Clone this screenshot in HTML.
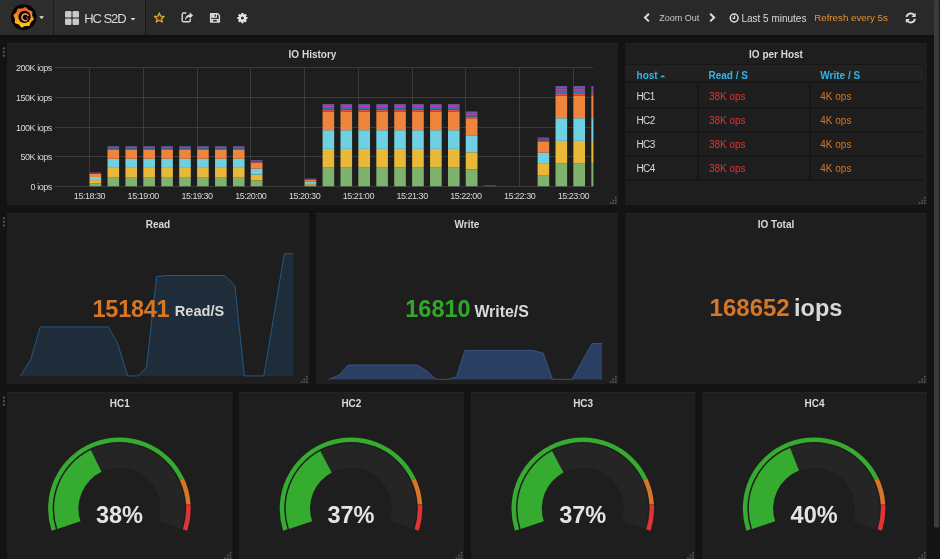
<!DOCTYPE html>
<html><head><meta charset="utf-8"><title>HC S2D - Grafana</title>
<style>
*{box-sizing:border-box;margin:0;padding:0}
html,body{width:940px;height:559px;overflow:hidden;background:#131313;font-family:"Liberation Sans", sans-serif}
svg{position:absolute;left:0;top:0;font-family:"Liberation Sans", sans-serif;will-change:transform}
</style></head><body>
<svg width="940" height="559" viewBox="0 0 940 559">
<defs>
<linearGradient id="lg" x1="0" y1="0" x2="0" y2="1"><stop offset="0" stop-color="#f05a28"/><stop offset="0.5" stop-color="#f7931e"/><stop offset="1" stop-color="#fcd00b"/></linearGradient>
<linearGradient id="navsh" x1="0" y1="0" x2="0" y2="1"><stop offset="0" stop-color="#0e0e0e"/><stop offset="1" stop-color="#131313"/></linearGradient>
<filter id="blur1" x="-50%" y="-50%" width="200%" height="200%"><feGaussianBlur stdDeviation="4"/></filter>
</defs>

<rect x="7" y="43" width="611" height="162" fill="#1f1e1e"/>
<rect x="7" y="43" width="611" height="1" fill="#242424"/>
<rect x="625" y="43" width="302" height="162" fill="#1f1e1e"/>
<rect x="625" y="43" width="302" height="1" fill="#242424"/>
<rect x="7" y="213" width="302" height="171" fill="#1f1e1e"/>
<rect x="7" y="213" width="302" height="1" fill="#242424"/>
<rect x="316" y="213" width="302" height="171" fill="#1f1e1e"/>
<rect x="316" y="213" width="302" height="1" fill="#242424"/>
<rect x="625" y="213" width="302" height="171" fill="#1f1e1e"/>
<rect x="625" y="213" width="302" height="1" fill="#242424"/>
<rect x="7" y="392" width="225.6" height="168" fill="#1f1e1e"/>
<rect x="7" y="392" width="225.6" height="1" fill="#242424"/>
<rect x="239" y="392" width="224.8" height="168" fill="#1f1e1e"/>
<rect x="239" y="392" width="224.8" height="1" fill="#242424"/>
<rect x="471" y="392" width="224.3" height="168" fill="#1f1e1e"/>
<rect x="471" y="392" width="224.3" height="1" fill="#242424"/>
<rect x="702" y="392" width="225" height="168" fill="#1f1e1e"/>
<rect x="702" y="392" width="225" height="1" fill="#242424"/>
<rect x="0" y="35" width="934" height="4" fill="url(#navsh)"/>
<rect x="0" y="0" width="934" height="35" fill="#292929"/>
<rect x="0" y="0" width="145" height="35" fill="#2d2d2d"/>
<rect x="53" y="0" width="1" height="35" fill="#1c1c1c"/><rect x="145" y="0" width="1" height="35" fill="#181818"/>
<circle cx="23.7" cy="17.1" r="12.8" fill="#050505"/>
<polygon points="25.55,7.60 28.12,10.48 31.77,11.79 31.55,15.65 33.20,19.15 30.32,21.72 29.01,25.37 25.15,25.15 21.65,26.80 19.08,23.92 15.43,22.61 15.65,18.75 14.00,15.25 16.88,12.68 18.19,9.03 22.05,9.25" fill="url(#lg)" stroke="url(#lg)" stroke-width="1.3" stroke-linejoin="round"/>
<circle cx="24.5" cy="16.9" r="6.1" fill="#080404"/>
<path d="M28.4,15.9 A3.4,3.4 0 1 0 26.9,20.3" fill="none" stroke="#f2a06c" stroke-width="1.5"/>
<path d="M26.9,20.3 A1.7,1.7 0 0 0 26.1,17.1" fill="none" stroke="#b84a34" stroke-width="1.1"/>
<path d="M39.3,16.3 L43.9,16.3 L41.6,19 Z" fill="#e8e8e8"/>
<g fill="#c8c8c8"><rect x="65" y="11" width="6.5" height="6.5" rx="1.2"/><rect x="72.5" y="11" width="6.5" height="6.5" rx="1.2"/><rect x="65" y="18.5" width="6.5" height="6.5" rx="1.2"/><rect x="72.5" y="18.5" width="6.5" height="6.5" rx="1.2"/></g>
<text x="84.20" y="22.80" font-size="13" fill="#d8d9da" letter-spacing="-1.05" text-anchor="start">HC S2D</text>
<path d="M130.6,17.9 L135.4,17.9 L133,20.6 Z" fill="#e0e0e0"/>
<polygon points="159.30,13.00 160.65,16.14 164.06,16.45 161.49,18.71 162.24,22.05 159.30,20.30 156.36,22.05 157.11,18.71 154.54,16.45 157.95,16.14" fill="#5c2410" stroke="#d2b03a" stroke-width="1.3" stroke-linejoin="round"/>
<path d="M190.3,18.7 V20.4 Q190.3,21.8 188.9,21.8 H183.6 Q182.2,21.8 182.2,20.4 V14.4 Q182.2,13 183.6,13 H186.4" fill="none" stroke="#d8d9da" stroke-width="1.4"/>
<path d="M185,20.6 C185,16.6 187.2,14.8 189.7,14.8 V12.2 L193.1,15.5 L189.7,18.8 V16.9 C187.8,16.9 186.2,17.9 185,20.6 Z" fill="#d8d9da"/>
<path d="M210.6,13.8 H217.7 L219.4,15.5 V22 H210.6 Z" fill="none" stroke="#d8d9da" stroke-width="1.4" stroke-linejoin="round"/>
<rect x="211.2" y="13.8" width="5.8" height="4" fill="#d8d9da"/><rect x="214.6" y="14.5" width="1.3" height="2.2" fill="#333"/>
<rect x="211.2" y="18.9" width="7.6" height="3" fill="#d8d9da"/><rect x="213.1" y="19.9" width="3.7" height="1.6" fill="#2a2a2a"/>
<g fill="#e8e8e8"><circle cx="242.4" cy="18.1" r="3.55"/><rect x="241.2" y="13.05" width="2.4" height="3" rx="0.45" transform="rotate(0 242.4 18.1)"/><rect x="241.2" y="13.05" width="2.4" height="3" rx="0.45" transform="rotate(45 242.4 18.1)"/><rect x="241.2" y="13.05" width="2.4" height="3" rx="0.45" transform="rotate(90 242.4 18.1)"/><rect x="241.2" y="13.05" width="2.4" height="3" rx="0.45" transform="rotate(135 242.4 18.1)"/><rect x="241.2" y="13.05" width="2.4" height="3" rx="0.45" transform="rotate(180 242.4 18.1)"/><rect x="241.2" y="13.05" width="2.4" height="3" rx="0.45" transform="rotate(225 242.4 18.1)"/><rect x="241.2" y="13.05" width="2.4" height="3" rx="0.45" transform="rotate(270 242.4 18.1)"/><rect x="241.2" y="13.05" width="2.4" height="3" rx="0.45" transform="rotate(315 242.4 18.1)"/></g><circle cx="242.4" cy="18.1" r="1.5" fill="#292929"/>
<path d="M648.9,13.8 L645,17.6 L648.9,21.4" fill="none" stroke="#e0e0e0" stroke-width="2"/>
<path d="M710.2,13.8 L714.1,17.6 L710.2,21.4" fill="none" stroke="#e0e0e0" stroke-width="2"/>
<circle cx="734.2" cy="18" r="3.9" fill="none" stroke="#e0e0e0" stroke-width="1.5"/>
<path d="M734.5,15.6 V18.3 H732.4" fill="none" stroke="#e0e0e0" stroke-width="1.2"/>
<text x="659.30" y="21.00" font-size="9" fill="#c8c8c8" text-anchor="start">Zoom Out</text>
<text x="741.40" y="21.60" font-size="10" fill="#d8d9da" text-anchor="start">Last 5 minutes</text>
<text x="814.20" y="20.90" font-size="9.75" fill="#e0923a" text-anchor="start">Refresh every 5s</text>
<path d="M906.4,17 A4.3,4.3 0 0 1 914.2,15.3" fill="none" stroke="#e0e0e0" stroke-width="1.8"/>
<path d="M915.6,12.8 L915.6,16.9 L911.5,16.9 Z" fill="#e0e0e0"/>
<path d="M915,18.9 A4.3,4.3 0 0 1 907.2,20.6" fill="none" stroke="#e0e0e0" stroke-width="1.8"/>
<path d="M905.8,23 L905.8,18.9 L909.9,18.9 Z" fill="#e0e0e0"/>
<rect x="934" y="0" width="6" height="559" fill="#141414"/>
<rect x="934" y="0" width="5.2" height="527.5" rx="1.5" fill="#3b3b3b"/>
<g fill="#4a4a4a"><circle cx="3.9" cy="48.4" r="1.25"/><circle cx="3.9" cy="52.0" r="1.25"/><circle cx="3.9" cy="55.699999999999996" r="1.25"/></g>
<g fill="#4a4a4a"><circle cx="3.9" cy="218.1" r="1.25"/><circle cx="3.9" cy="221.7" r="1.25"/><circle cx="3.9" cy="225.4" r="1.25"/></g>
<g fill="#4a4a4a"><circle cx="3.9" cy="397.4" r="1.25"/><circle cx="3.9" cy="401.0" r="1.25"/><circle cx="3.9" cy="404.7" r="1.25"/></g>
<g fill="#555"><circle cx="615.8" cy="197.8" r="0.95"/><circle cx="615.8" cy="200.4" r="0.95"/><circle cx="613.2" cy="200.4" r="0.95"/><circle cx="615.8" cy="203.0" r="0.95"/><circle cx="613.2" cy="203.0" r="0.95"/><circle cx="610.6" cy="203.0" r="0.95"/></g>
<g fill="#555"><circle cx="924.8" cy="197.8" r="0.95"/><circle cx="924.8" cy="200.4" r="0.95"/><circle cx="922.2" cy="200.4" r="0.95"/><circle cx="924.8" cy="203.0" r="0.95"/><circle cx="922.2" cy="203.0" r="0.95"/><circle cx="919.6" cy="203.0" r="0.95"/></g>
<g fill="#555"><circle cx="306.8" cy="376.8" r="0.95"/><circle cx="306.8" cy="379.4" r="0.95"/><circle cx="304.2" cy="379.4" r="0.95"/><circle cx="306.8" cy="382.0" r="0.95"/><circle cx="304.2" cy="382.0" r="0.95"/><circle cx="301.6" cy="382.0" r="0.95"/></g>
<g fill="#555"><circle cx="615.8" cy="376.8" r="0.95"/><circle cx="615.8" cy="379.4" r="0.95"/><circle cx="613.2" cy="379.4" r="0.95"/><circle cx="615.8" cy="382.0" r="0.95"/><circle cx="613.2" cy="382.0" r="0.95"/><circle cx="610.6" cy="382.0" r="0.95"/></g>
<g fill="#555"><circle cx="924.8" cy="376.8" r="0.95"/><circle cx="924.8" cy="379.4" r="0.95"/><circle cx="922.2" cy="379.4" r="0.95"/><circle cx="924.8" cy="382.0" r="0.95"/><circle cx="922.2" cy="382.0" r="0.95"/><circle cx="919.6" cy="382.0" r="0.95"/></g>
<g fill="#555"><circle cx="230.4" cy="552.8" r="0.95"/><circle cx="230.4" cy="555.4" r="0.95"/><circle cx="227.8" cy="555.4" r="0.95"/><circle cx="230.4" cy="558.0" r="0.95"/><circle cx="227.8" cy="558.0" r="0.95"/><circle cx="225.2" cy="558.0" r="0.95"/></g>
<g fill="#555"><circle cx="461.6" cy="552.8" r="0.95"/><circle cx="461.6" cy="555.4" r="0.95"/><circle cx="459.0" cy="555.4" r="0.95"/><circle cx="461.6" cy="558.0" r="0.95"/><circle cx="459.0" cy="558.0" r="0.95"/><circle cx="456.4" cy="558.0" r="0.95"/></g>
<g fill="#555"><circle cx="693.1" cy="552.8" r="0.95"/><circle cx="693.1" cy="555.4" r="0.95"/><circle cx="690.5" cy="555.4" r="0.95"/><circle cx="693.1" cy="558.0" r="0.95"/><circle cx="690.5" cy="558.0" r="0.95"/><circle cx="687.9" cy="558.0" r="0.95"/></g>
<g fill="#555"><circle cx="924.8" cy="552.8" r="0.95"/><circle cx="924.8" cy="555.4" r="0.95"/><circle cx="922.2" cy="555.4" r="0.95"/><circle cx="924.8" cy="558.0" r="0.95"/><circle cx="922.2" cy="558.0" r="0.95"/><circle cx="919.6" cy="558.0" r="0.95"/></g>
<text x="312.50" y="57.60" font-size="10" fill="#d8d9da" font-weight="bold" text-anchor="middle">IO History</text>
<g stroke="rgba(255,255,255,0.12)" stroke-width="1" shape-rendering="crispEdges">
<line x1="54.8" y1="186.3" x2="593.4" y2="186.3"/>
<line x1="54.8" y1="156.7" x2="593.4" y2="156.7"/>
<line x1="54.8" y1="127.0" x2="593.4" y2="127.0"/>
<line x1="54.8" y1="97.4" x2="593.4" y2="97.4"/>
<line x1="54.8" y1="67.7" x2="593.4" y2="67.7"/>
<line x1="89.5" y1="67.7" x2="89.5" y2="186.3"/>
<line x1="143.3" y1="67.7" x2="143.3" y2="186.3"/>
<line x1="197.0" y1="67.7" x2="197.0" y2="186.3"/>
<line x1="250.8" y1="67.7" x2="250.8" y2="186.3"/>
<line x1="304.5" y1="67.7" x2="304.5" y2="186.3"/>
<line x1="358.3" y1="67.7" x2="358.3" y2="186.3"/>
<line x1="412.1" y1="67.7" x2="412.1" y2="186.3"/>
<line x1="465.8" y1="67.7" x2="465.8" y2="186.3"/>
<line x1="519.6" y1="67.7" x2="519.6" y2="186.3"/>
<line x1="573.3" y1="67.7" x2="573.3" y2="186.3"/>
</g>
<rect x="89.60" y="183.20" width="11.60" height="3.10" fill="#7EB26D"/>
<rect x="89.60" y="180.10" width="11.60" height="3.10" fill="#EAB839"/>
<rect x="89.60" y="177.00" width="11.60" height="3.10" fill="#6ED0E0"/>
<rect x="89.60" y="173.90" width="11.60" height="3.10" fill="#EF843C"/>
<rect x="89.60" y="173.55" width="11.60" height="0.35" fill="#E24D42"/>
<rect x="89.60" y="173.20" width="11.60" height="0.35" fill="#1F78C1"/>
<rect x="89.60" y="172.85" width="11.60" height="0.35" fill="#BA43A9"/>
<rect x="89.60" y="172.50" width="11.60" height="0.35" fill="#705DA0"/>
<rect x="107.52" y="177.10" width="11.60" height="9.20" fill="#7EB26D"/>
<rect x="107.52" y="167.90" width="11.60" height="9.20" fill="#EAB839"/>
<rect x="107.52" y="158.70" width="11.60" height="9.20" fill="#6ED0E0"/>
<rect x="107.52" y="149.50" width="11.60" height="9.20" fill="#EF843C"/>
<rect x="107.52" y="148.68" width="11.60" height="0.82" fill="#E24D42"/>
<rect x="107.52" y="147.86" width="11.60" height="0.82" fill="#1F78C1"/>
<rect x="107.52" y="147.04" width="11.60" height="0.82" fill="#BA43A9"/>
<rect x="107.52" y="146.22" width="11.60" height="0.82" fill="#705DA0"/>
<rect x="125.44" y="177.10" width="11.60" height="9.20" fill="#7EB26D"/>
<rect x="125.44" y="167.90" width="11.60" height="9.20" fill="#EAB839"/>
<rect x="125.44" y="158.70" width="11.60" height="9.20" fill="#6ED0E0"/>
<rect x="125.44" y="149.50" width="11.60" height="9.20" fill="#EF843C"/>
<rect x="125.44" y="148.68" width="11.60" height="0.82" fill="#E24D42"/>
<rect x="125.44" y="147.86" width="11.60" height="0.82" fill="#1F78C1"/>
<rect x="125.44" y="147.04" width="11.60" height="0.82" fill="#BA43A9"/>
<rect x="125.44" y="146.22" width="11.60" height="0.82" fill="#705DA0"/>
<rect x="143.36" y="177.10" width="11.60" height="9.20" fill="#7EB26D"/>
<rect x="143.36" y="167.90" width="11.60" height="9.20" fill="#EAB839"/>
<rect x="143.36" y="158.70" width="11.60" height="9.20" fill="#6ED0E0"/>
<rect x="143.36" y="149.50" width="11.60" height="9.20" fill="#EF843C"/>
<rect x="143.36" y="148.68" width="11.60" height="0.82" fill="#E24D42"/>
<rect x="143.36" y="147.86" width="11.60" height="0.82" fill="#1F78C1"/>
<rect x="143.36" y="147.04" width="11.60" height="0.82" fill="#BA43A9"/>
<rect x="143.36" y="146.22" width="11.60" height="0.82" fill="#705DA0"/>
<rect x="161.28" y="177.10" width="11.60" height="9.20" fill="#7EB26D"/>
<rect x="161.28" y="167.90" width="11.60" height="9.20" fill="#EAB839"/>
<rect x="161.28" y="158.70" width="11.60" height="9.20" fill="#6ED0E0"/>
<rect x="161.28" y="149.50" width="11.60" height="9.20" fill="#EF843C"/>
<rect x="161.28" y="148.68" width="11.60" height="0.82" fill="#E24D42"/>
<rect x="161.28" y="147.86" width="11.60" height="0.82" fill="#1F78C1"/>
<rect x="161.28" y="147.04" width="11.60" height="0.82" fill="#BA43A9"/>
<rect x="161.28" y="146.22" width="11.60" height="0.82" fill="#705DA0"/>
<rect x="179.20" y="177.10" width="11.60" height="9.20" fill="#7EB26D"/>
<rect x="179.20" y="167.90" width="11.60" height="9.20" fill="#EAB839"/>
<rect x="179.20" y="158.70" width="11.60" height="9.20" fill="#6ED0E0"/>
<rect x="179.20" y="149.50" width="11.60" height="9.20" fill="#EF843C"/>
<rect x="179.20" y="148.68" width="11.60" height="0.82" fill="#E24D42"/>
<rect x="179.20" y="147.86" width="11.60" height="0.82" fill="#1F78C1"/>
<rect x="179.20" y="147.04" width="11.60" height="0.82" fill="#BA43A9"/>
<rect x="179.20" y="146.22" width="11.60" height="0.82" fill="#705DA0"/>
<rect x="197.12" y="177.10" width="11.60" height="9.20" fill="#7EB26D"/>
<rect x="197.12" y="167.90" width="11.60" height="9.20" fill="#EAB839"/>
<rect x="197.12" y="158.70" width="11.60" height="9.20" fill="#6ED0E0"/>
<rect x="197.12" y="149.50" width="11.60" height="9.20" fill="#EF843C"/>
<rect x="197.12" y="148.68" width="11.60" height="0.82" fill="#E24D42"/>
<rect x="197.12" y="147.86" width="11.60" height="0.82" fill="#1F78C1"/>
<rect x="197.12" y="147.04" width="11.60" height="0.82" fill="#BA43A9"/>
<rect x="197.12" y="146.22" width="11.60" height="0.82" fill="#705DA0"/>
<rect x="215.04" y="177.10" width="11.60" height="9.20" fill="#7EB26D"/>
<rect x="215.04" y="167.90" width="11.60" height="9.20" fill="#EAB839"/>
<rect x="215.04" y="158.70" width="11.60" height="9.20" fill="#6ED0E0"/>
<rect x="215.04" y="149.50" width="11.60" height="9.20" fill="#EF843C"/>
<rect x="215.04" y="148.68" width="11.60" height="0.82" fill="#E24D42"/>
<rect x="215.04" y="147.86" width="11.60" height="0.82" fill="#1F78C1"/>
<rect x="215.04" y="147.04" width="11.60" height="0.82" fill="#BA43A9"/>
<rect x="215.04" y="146.22" width="11.60" height="0.82" fill="#705DA0"/>
<rect x="232.96" y="177.10" width="11.60" height="9.20" fill="#7EB26D"/>
<rect x="232.96" y="167.90" width="11.60" height="9.20" fill="#EAB839"/>
<rect x="232.96" y="158.70" width="11.60" height="9.20" fill="#6ED0E0"/>
<rect x="232.96" y="149.50" width="11.60" height="9.20" fill="#EF843C"/>
<rect x="232.96" y="148.68" width="11.60" height="0.82" fill="#E24D42"/>
<rect x="232.96" y="147.86" width="11.60" height="0.82" fill="#1F78C1"/>
<rect x="232.96" y="147.04" width="11.60" height="0.82" fill="#BA43A9"/>
<rect x="232.96" y="146.22" width="11.60" height="0.82" fill="#705DA0"/>
<rect x="250.88" y="180.45" width="11.60" height="5.85" fill="#7EB26D"/>
<rect x="250.88" y="174.60" width="11.60" height="5.85" fill="#EAB839"/>
<rect x="250.88" y="168.75" width="11.60" height="5.85" fill="#6ED0E0"/>
<rect x="250.88" y="162.90" width="11.60" height="5.85" fill="#EF843C"/>
<rect x="250.88" y="162.18" width="11.60" height="0.72" fill="#E24D42"/>
<rect x="250.88" y="161.46" width="11.60" height="0.72" fill="#1F78C1"/>
<rect x="250.88" y="160.74" width="11.60" height="0.72" fill="#BA43A9"/>
<rect x="250.88" y="160.02" width="11.60" height="0.72" fill="#705DA0"/>
<rect x="304.64" y="184.70" width="11.60" height="1.60" fill="#7EB26D"/>
<rect x="304.64" y="183.10" width="11.60" height="1.60" fill="#EAB839"/>
<rect x="304.64" y="181.50" width="11.60" height="1.60" fill="#6ED0E0"/>
<rect x="304.64" y="179.90" width="11.60" height="1.60" fill="#EF843C"/>
<rect x="304.64" y="179.57" width="11.60" height="0.33" fill="#E24D42"/>
<rect x="304.64" y="179.24" width="11.60" height="0.33" fill="#1F78C1"/>
<rect x="304.64" y="178.91" width="11.60" height="0.33" fill="#BA43A9"/>
<rect x="304.64" y="178.58" width="11.60" height="0.33" fill="#705DA0"/>
<rect x="322.56" y="167.60" width="11.60" height="18.70" fill="#7EB26D"/>
<rect x="322.56" y="148.90" width="11.60" height="18.70" fill="#EAB839"/>
<rect x="322.56" y="130.20" width="11.60" height="18.70" fill="#6ED0E0"/>
<rect x="322.56" y="111.50" width="11.60" height="18.70" fill="#EF843C"/>
<rect x="322.56" y="109.65" width="11.60" height="1.85" fill="#E24D42"/>
<rect x="322.56" y="107.80" width="11.60" height="1.85" fill="#1F78C1"/>
<rect x="322.56" y="105.95" width="11.60" height="1.85" fill="#BA43A9"/>
<rect x="322.56" y="104.10" width="11.60" height="1.85" fill="#705DA0"/>
<rect x="340.48" y="167.60" width="11.60" height="18.70" fill="#7EB26D"/>
<rect x="340.48" y="148.90" width="11.60" height="18.70" fill="#EAB839"/>
<rect x="340.48" y="130.20" width="11.60" height="18.70" fill="#6ED0E0"/>
<rect x="340.48" y="111.50" width="11.60" height="18.70" fill="#EF843C"/>
<rect x="340.48" y="109.65" width="11.60" height="1.85" fill="#E24D42"/>
<rect x="340.48" y="107.80" width="11.60" height="1.85" fill="#1F78C1"/>
<rect x="340.48" y="105.95" width="11.60" height="1.85" fill="#BA43A9"/>
<rect x="340.48" y="104.10" width="11.60" height="1.85" fill="#705DA0"/>
<rect x="358.40" y="167.60" width="11.60" height="18.70" fill="#7EB26D"/>
<rect x="358.40" y="148.90" width="11.60" height="18.70" fill="#EAB839"/>
<rect x="358.40" y="130.20" width="11.60" height="18.70" fill="#6ED0E0"/>
<rect x="358.40" y="111.50" width="11.60" height="18.70" fill="#EF843C"/>
<rect x="358.40" y="109.65" width="11.60" height="1.85" fill="#E24D42"/>
<rect x="358.40" y="107.80" width="11.60" height="1.85" fill="#1F78C1"/>
<rect x="358.40" y="105.95" width="11.60" height="1.85" fill="#BA43A9"/>
<rect x="358.40" y="104.10" width="11.60" height="1.85" fill="#705DA0"/>
<rect x="376.32" y="167.60" width="11.60" height="18.70" fill="#7EB26D"/>
<rect x="376.32" y="148.90" width="11.60" height="18.70" fill="#EAB839"/>
<rect x="376.32" y="130.20" width="11.60" height="18.70" fill="#6ED0E0"/>
<rect x="376.32" y="111.50" width="11.60" height="18.70" fill="#EF843C"/>
<rect x="376.32" y="109.65" width="11.60" height="1.85" fill="#E24D42"/>
<rect x="376.32" y="107.80" width="11.60" height="1.85" fill="#1F78C1"/>
<rect x="376.32" y="105.95" width="11.60" height="1.85" fill="#BA43A9"/>
<rect x="376.32" y="104.10" width="11.60" height="1.85" fill="#705DA0"/>
<rect x="394.24" y="167.60" width="11.60" height="18.70" fill="#7EB26D"/>
<rect x="394.24" y="148.90" width="11.60" height="18.70" fill="#EAB839"/>
<rect x="394.24" y="130.20" width="11.60" height="18.70" fill="#6ED0E0"/>
<rect x="394.24" y="111.50" width="11.60" height="18.70" fill="#EF843C"/>
<rect x="394.24" y="109.65" width="11.60" height="1.85" fill="#E24D42"/>
<rect x="394.24" y="107.80" width="11.60" height="1.85" fill="#1F78C1"/>
<rect x="394.24" y="105.95" width="11.60" height="1.85" fill="#BA43A9"/>
<rect x="394.24" y="104.10" width="11.60" height="1.85" fill="#705DA0"/>
<rect x="412.16" y="167.60" width="11.60" height="18.70" fill="#7EB26D"/>
<rect x="412.16" y="148.90" width="11.60" height="18.70" fill="#EAB839"/>
<rect x="412.16" y="130.20" width="11.60" height="18.70" fill="#6ED0E0"/>
<rect x="412.16" y="111.50" width="11.60" height="18.70" fill="#EF843C"/>
<rect x="412.16" y="109.65" width="11.60" height="1.85" fill="#E24D42"/>
<rect x="412.16" y="107.80" width="11.60" height="1.85" fill="#1F78C1"/>
<rect x="412.16" y="105.95" width="11.60" height="1.85" fill="#BA43A9"/>
<rect x="412.16" y="104.10" width="11.60" height="1.85" fill="#705DA0"/>
<rect x="430.08" y="167.60" width="11.60" height="18.70" fill="#7EB26D"/>
<rect x="430.08" y="148.90" width="11.60" height="18.70" fill="#EAB839"/>
<rect x="430.08" y="130.20" width="11.60" height="18.70" fill="#6ED0E0"/>
<rect x="430.08" y="111.50" width="11.60" height="18.70" fill="#EF843C"/>
<rect x="430.08" y="109.65" width="11.60" height="1.85" fill="#E24D42"/>
<rect x="430.08" y="107.80" width="11.60" height="1.85" fill="#1F78C1"/>
<rect x="430.08" y="105.95" width="11.60" height="1.85" fill="#BA43A9"/>
<rect x="430.08" y="104.10" width="11.60" height="1.85" fill="#705DA0"/>
<rect x="448.00" y="167.60" width="11.60" height="18.70" fill="#7EB26D"/>
<rect x="448.00" y="148.90" width="11.60" height="18.70" fill="#EAB839"/>
<rect x="448.00" y="130.20" width="11.60" height="18.70" fill="#6ED0E0"/>
<rect x="448.00" y="111.50" width="11.60" height="18.70" fill="#EF843C"/>
<rect x="448.00" y="109.65" width="11.60" height="1.85" fill="#E24D42"/>
<rect x="448.00" y="107.80" width="11.60" height="1.85" fill="#1F78C1"/>
<rect x="448.00" y="105.95" width="11.60" height="1.85" fill="#BA43A9"/>
<rect x="448.00" y="104.10" width="11.60" height="1.85" fill="#705DA0"/>
<rect x="465.92" y="169.30" width="11.60" height="17.00" fill="#7EB26D"/>
<rect x="465.92" y="152.30" width="11.60" height="17.00" fill="#EAB839"/>
<rect x="465.92" y="135.30" width="11.60" height="17.00" fill="#6ED0E0"/>
<rect x="465.92" y="118.30" width="11.60" height="17.00" fill="#EF843C"/>
<rect x="465.92" y="116.60" width="11.60" height="1.70" fill="#E24D42"/>
<rect x="465.92" y="114.90" width="11.60" height="1.70" fill="#1F78C1"/>
<rect x="465.92" y="113.20" width="11.60" height="1.70" fill="#BA43A9"/>
<rect x="465.92" y="111.50" width="11.60" height="1.70" fill="#705DA0"/>
<rect x="537.60" y="175.10" width="11.60" height="11.20" fill="#7EB26D"/>
<rect x="537.60" y="163.90" width="11.60" height="11.20" fill="#EAB839"/>
<rect x="537.60" y="152.70" width="11.60" height="11.20" fill="#6ED0E0"/>
<rect x="537.60" y="141.50" width="11.60" height="11.20" fill="#EF843C"/>
<rect x="537.60" y="140.50" width="11.60" height="1.00" fill="#E24D42"/>
<rect x="537.60" y="139.50" width="11.60" height="1.00" fill="#1F78C1"/>
<rect x="537.60" y="138.50" width="11.60" height="1.00" fill="#BA43A9"/>
<rect x="537.60" y="137.50" width="11.60" height="1.00" fill="#705DA0"/>
<rect x="555.52" y="163.60" width="11.60" height="22.70" fill="#7EB26D"/>
<rect x="555.52" y="140.90" width="11.60" height="22.70" fill="#EAB839"/>
<rect x="555.52" y="118.20" width="11.60" height="22.70" fill="#6ED0E0"/>
<rect x="555.52" y="95.50" width="11.60" height="22.70" fill="#EF843C"/>
<rect x="555.52" y="93.15" width="11.60" height="2.35" fill="#E24D42"/>
<rect x="555.52" y="90.80" width="11.60" height="2.35" fill="#1F78C1"/>
<rect x="555.52" y="88.45" width="11.60" height="2.35" fill="#BA43A9"/>
<rect x="555.52" y="86.10" width="11.60" height="2.35" fill="#705DA0"/>
<rect x="573.44" y="163.60" width="11.60" height="22.70" fill="#7EB26D"/>
<rect x="573.44" y="140.90" width="11.60" height="22.70" fill="#EAB839"/>
<rect x="573.44" y="118.20" width="11.60" height="22.70" fill="#6ED0E0"/>
<rect x="573.44" y="95.50" width="11.60" height="22.70" fill="#EF843C"/>
<rect x="573.44" y="93.15" width="11.60" height="2.35" fill="#E24D42"/>
<rect x="573.44" y="90.80" width="11.60" height="2.35" fill="#1F78C1"/>
<rect x="573.44" y="88.45" width="11.60" height="2.35" fill="#BA43A9"/>
<rect x="573.44" y="86.10" width="11.60" height="2.35" fill="#705DA0"/>
<rect x="591.36" y="163.60" width="2.04" height="22.70" fill="#7EB26D"/>
<rect x="591.36" y="140.90" width="2.04" height="22.70" fill="#EAB839"/>
<rect x="591.36" y="118.20" width="2.04" height="22.70" fill="#6ED0E0"/>
<rect x="591.36" y="95.50" width="2.04" height="22.70" fill="#EF843C"/>
<rect x="591.36" y="93.15" width="2.04" height="2.35" fill="#E24D42"/>
<rect x="591.36" y="90.80" width="2.04" height="2.35" fill="#1F78C1"/>
<rect x="591.36" y="88.45" width="2.04" height="2.35" fill="#BA43A9"/>
<rect x="591.36" y="86.10" width="2.04" height="2.35" fill="#705DA0"/>
<rect x="483.74" y="185.30" width="12.1" height="1" fill="#5a5a5a"/>
<text x="51.90" y="189.80" font-size="9" fill="#d8d9da" letter-spacing="-0.45" text-anchor="end">0 iops</text>
<text x="51.90" y="160.15" font-size="9" fill="#d8d9da" letter-spacing="-0.45" text-anchor="end">50K iops</text>
<text x="51.90" y="130.50" font-size="9" fill="#d8d9da" letter-spacing="-0.45" text-anchor="end">100K iops</text>
<text x="51.90" y="100.85" font-size="9" fill="#d8d9da" letter-spacing="-0.45" text-anchor="end">150K iops</text>
<text x="51.90" y="71.20" font-size="9" fill="#d8d9da" letter-spacing="-0.45" text-anchor="end">200K iops</text>
<text x="89.50" y="199.00" font-size="9" fill="#d8d9da" letter-spacing="-0.47" text-anchor="middle">15:18:30</text>
<text x="143.26" y="199.00" font-size="9" fill="#d8d9da" letter-spacing="-0.47" text-anchor="middle">15:19:00</text>
<text x="197.02" y="199.00" font-size="9" fill="#d8d9da" letter-spacing="-0.47" text-anchor="middle">15:19:30</text>
<text x="250.78" y="199.00" font-size="9" fill="#d8d9da" letter-spacing="-0.47" text-anchor="middle">15:20:00</text>
<text x="304.54" y="199.00" font-size="9" fill="#d8d9da" letter-spacing="-0.47" text-anchor="middle">15:20:30</text>
<text x="358.30" y="199.00" font-size="9" fill="#d8d9da" letter-spacing="-0.47" text-anchor="middle">15:21:00</text>
<text x="412.06" y="199.00" font-size="9" fill="#d8d9da" letter-spacing="-0.47" text-anchor="middle">15:21:30</text>
<text x="465.82" y="199.00" font-size="9" fill="#d8d9da" letter-spacing="-0.47" text-anchor="middle">15:22:00</text>
<text x="519.58" y="199.00" font-size="9" fill="#d8d9da" letter-spacing="-0.47" text-anchor="middle">15:22:30</text>
<text x="573.34" y="199.00" font-size="9" fill="#d8d9da" letter-spacing="-0.47" text-anchor="middle">15:23:00</text>
<text x="776.00" y="57.60" font-size="10" fill="#d8d9da" font-weight="bold" text-anchor="middle">IO per Host</text>
<rect x="626" y="64" width="297" height="1" fill="#171717"/>
<rect x="626" y="65" width="297" height="16" fill="#222121"/>
<rect x="626" y="81" width="297" height="2" fill="#171717"/>
<text x="636.60" y="78.90" font-size="10" fill="#33b5e5" font-weight="bold" text-anchor="start">host</text>
<path d="M660,77.3 L662.7,74.9 L665.4,77.3 Z" fill="#33b5e5"/>
<text x="708.50" y="78.90" font-size="10" fill="#33b5e5" font-weight="bold" text-anchor="start">Read / S</text>
<text x="820.30" y="78.90" font-size="10" fill="#33b5e5" font-weight="bold" text-anchor="start">Write / S</text>
<rect x="626" y="107" width="297" height="2" fill="#171717"/>
<rect x="697" y="83" width="2" height="26" fill="#171717"/><rect x="809" y="83" width="2" height="26" fill="#171717"/>
<text x="636.60" y="100.00" font-size="10" fill="#d8d9da" letter-spacing="-0.7" text-anchor="start">HC1</text>
<text x="708.90" y="100.00" font-size="10" fill="#e03434" text-anchor="start">38K ops</text>
<text x="820.30" y="100.00" font-size="10" fill="#d67627" text-anchor="start">4K ops</text>
<rect x="626" y="131" width="297" height="2" fill="#171717"/>
<rect x="697" y="107" width="2" height="26" fill="#171717"/><rect x="809" y="107" width="2" height="26" fill="#171717"/>
<text x="636.60" y="124.00" font-size="10" fill="#d8d9da" letter-spacing="-0.7" text-anchor="start">HC2</text>
<text x="708.90" y="124.00" font-size="10" fill="#e03434" text-anchor="start">38K ops</text>
<text x="820.30" y="124.00" font-size="10" fill="#d67627" text-anchor="start">4K ops</text>
<rect x="626" y="155" width="297" height="2" fill="#171717"/>
<rect x="697" y="131" width="2" height="26" fill="#171717"/><rect x="809" y="131" width="2" height="26" fill="#171717"/>
<text x="636.60" y="148.00" font-size="10" fill="#d8d9da" letter-spacing="-0.7" text-anchor="start">HC3</text>
<text x="708.90" y="148.00" font-size="10" fill="#e03434" text-anchor="start">38K ops</text>
<text x="820.30" y="148.00" font-size="10" fill="#d67627" text-anchor="start">4K ops</text>
<rect x="626" y="179" width="297" height="2" fill="#171717"/>
<rect x="697" y="155" width="2" height="26" fill="#171717"/><rect x="809" y="155" width="2" height="26" fill="#171717"/>
<text x="636.60" y="172.00" font-size="10" fill="#d8d9da" letter-spacing="-0.7" text-anchor="start">HC4</text>
<text x="708.90" y="172.00" font-size="10" fill="#e03434" text-anchor="start">38K ops</text>
<text x="820.30" y="172.00" font-size="10" fill="#d67627" text-anchor="start">4K ops</text>
<text x="158.00" y="227.60" font-size="10" fill="#d8d9da" font-weight="bold" text-anchor="middle">Read</text>
<path d="M20.4,375.9 L30.6,359.9 L40.2,326.9 L108.3,326.9 L117.4,342.9 L127.7,375.9 L137.9,375.9 L146.4,367.7 L156.6,276.5 L166.1,275.5 L224.7,275.5 L234.9,285.7 L244.4,375.9 L263.8,375.9 L284.3,253.7 L293.4,253.7 L293.4,376 L20.4,376 Z" fill="rgba(31,118,189,0.18)"/>
<path d="M20.4,375.9 L30.6,359.9 L40.2,326.9 L108.3,326.9 L117.4,342.9 L127.7,375.9 L137.9,375.9 L146.4,367.7 L156.6,276.5 L166.1,275.5 L224.7,275.5 L234.9,285.7 L244.4,375.9 L263.8,375.9 L284.3,253.7 L293.4,253.7" fill="none" stroke="rgba(31,120,193,0.62)" stroke-width="1"/>
<text x="92.60" y="316.80" font-size="23.5" fill="#d67627" font-weight="bold" letter-spacing="-0.3" text-anchor="start">151841</text>
<text x="174.80" y="316.40" font-size="14.6" fill="#d8d9da" font-weight="bold" text-anchor="start">Read/S</text>
<text x="467.00" y="227.60" font-size="10" fill="#d8d9da" font-weight="bold" text-anchor="middle">Write</text>
<path d="M328.7,379.3 L338.9,375.2 L348.1,365.0 L417.2,365.0 L425.7,370.1 L436.0,379.3 L447.9,379.3 L456.4,376.9 L464.9,350.4 L533.0,350.4 L543.2,353.1 L552.4,379.3 L572.1,379.3 L591.9,343.6 L602.1,343.6 L602.1,379.5 L328.7,379.5 Z" fill="#2b3e63"/>
<path d="M328.7,379.3 L338.9,375.2 L348.1,365.0 L417.2,365.0 L425.7,370.1 L436.0,379.3 L447.9,379.3 L456.4,376.9 L464.9,350.4 L533.0,350.4 L543.2,353.1 L552.4,379.3 L572.1,379.3 L591.9,343.6 L602.1,343.6" fill="none" stroke="rgba(70,110,170,0.6)" stroke-width="1"/>
<text x="405.30" y="316.80" font-size="23.5" fill="#31a82c" font-weight="bold" text-anchor="start">16810</text>
<text x="474.40" y="316.50" font-size="15.9" fill="#d8d9da" font-weight="bold" text-anchor="start">Write/S</text>
<text x="776.00" y="227.60" font-size="10" fill="#d8d9da" font-weight="bold" text-anchor="middle">IO Total</text>
<text x="709.60" y="316.40" font-size="24" fill="#d67627" font-weight="bold" text-anchor="start">168652</text>
<text x="794.10" y="316.40" font-size="23.5" fill="#d8d9da" font-weight="bold" text-anchor="start">iops</text>
<text x="119.80" y="406.60" font-size="10" fill="#d8d9da" font-weight="bold" text-anchor="middle">HC1</text>
<path d="M57.30,528.88 A65.3,65.3 0 1 1 181.50,528.88 L158.39,521.37 A41,41 0 1 0 80.41,521.37 Z" fill="#252525"/>
<path d="M57.30,528.88 A65.3,65.3 0 0 1 90.86,449.97 L101.48,471.82 A41,41 0 0 0 80.41,521.37 Z" fill="#35ab2f"/>
<path d="M51.59,530.73 A71.3,71.3 0 0 1 183.91,478.34 L179.84,480.26 A66.8,66.8 0 0 0 55.87,529.34 Z" fill="#35ab2f"/>
<path d="M183.91,478.34 A71.3,71.3 0 0 1 190.56,504.22 L186.07,504.51 A66.8,66.8 0 0 0 179.84,480.26 Z" fill="#d67627"/>
<path d="M190.56,504.22 A71.3,71.3 0 0 1 187.21,530.73 L182.93,529.34 A66.8,66.8 0 0 0 186.07,504.51 Z" fill="#e03434"/>
<text x="119.40" y="523.00" font-size="23.5" fill="#e4e4e4" font-weight="bold" text-anchor="middle">38%</text>
<text x="351.40" y="406.60" font-size="10" fill="#d8d9da" font-weight="bold" text-anchor="middle">HC2</text>
<path d="M288.90,528.88 A65.3,65.3 0 1 1 413.10,528.88 L389.99,521.37 A41,41 0 1 0 312.01,521.37 Z" fill="#252525"/>
<path d="M288.90,528.88 A65.3,65.3 0 0 1 320.26,451.09 L331.70,472.53 A41,41 0 0 0 312.01,521.37 Z" fill="#35ab2f"/>
<path d="M283.19,530.73 A71.3,71.3 0 0 1 415.51,478.34 L411.44,480.26 A66.8,66.8 0 0 0 287.47,529.34 Z" fill="#35ab2f"/>
<path d="M415.51,478.34 A71.3,71.3 0 0 1 422.16,504.22 L417.67,504.51 A66.8,66.8 0 0 0 411.44,480.26 Z" fill="#d67627"/>
<path d="M422.16,504.22 A71.3,71.3 0 0 1 418.81,530.73 L414.53,529.34 A66.8,66.8 0 0 0 417.67,504.51 Z" fill="#e03434"/>
<text x="351.00" y="523.00" font-size="23.5" fill="#e4e4e4" font-weight="bold" text-anchor="middle">37%</text>
<text x="583.15" y="406.60" font-size="10" fill="#d8d9da" font-weight="bold" text-anchor="middle">HC3</text>
<path d="M520.65,528.88 A65.3,65.3 0 1 1 644.85,528.88 L621.74,521.37 A41,41 0 1 0 543.76,521.37 Z" fill="#252525"/>
<path d="M520.65,528.88 A65.3,65.3 0 0 1 552.01,451.09 L563.45,472.53 A41,41 0 0 0 543.76,521.37 Z" fill="#35ab2f"/>
<path d="M514.94,530.73 A71.3,71.3 0 0 1 647.26,478.34 L643.19,480.26 A66.8,66.8 0 0 0 519.22,529.34 Z" fill="#35ab2f"/>
<path d="M647.26,478.34 A71.3,71.3 0 0 1 653.91,504.22 L649.42,504.51 A66.8,66.8 0 0 0 643.19,480.26 Z" fill="#d67627"/>
<path d="M653.91,504.22 A71.3,71.3 0 0 1 650.56,530.73 L646.28,529.34 A66.8,66.8 0 0 0 649.42,504.51 Z" fill="#e03434"/>
<text x="582.75" y="523.00" font-size="23.5" fill="#e4e4e4" font-weight="bold" text-anchor="middle">37%</text>
<text x="814.50" y="406.60" font-size="10" fill="#d8d9da" font-weight="bold" text-anchor="middle">HC4</text>
<path d="M752.00,528.88 A65.3,65.3 0 1 1 876.20,528.88 L853.09,521.37 A41,41 0 1 0 775.11,521.37 Z" fill="#252525"/>
<path d="M752.00,528.88 A65.3,65.3 0 0 1 790.06,447.99 L799.01,470.58 A41,41 0 0 0 775.11,521.37 Z" fill="#35ab2f"/>
<path d="M746.29,530.73 A71.3,71.3 0 0 1 878.61,478.34 L874.54,480.26 A66.8,66.8 0 0 0 750.57,529.34 Z" fill="#35ab2f"/>
<path d="M878.61,478.34 A71.3,71.3 0 0 1 885.26,504.22 L880.77,504.51 A66.8,66.8 0 0 0 874.54,480.26 Z" fill="#d67627"/>
<path d="M885.26,504.22 A71.3,71.3 0 0 1 881.91,530.73 L877.63,529.34 A66.8,66.8 0 0 0 880.77,504.51 Z" fill="#e03434"/>
<text x="814.10" y="523.00" font-size="23.5" fill="#e4e4e4" font-weight="bold" text-anchor="middle">40%</text>
</svg></body></html>
